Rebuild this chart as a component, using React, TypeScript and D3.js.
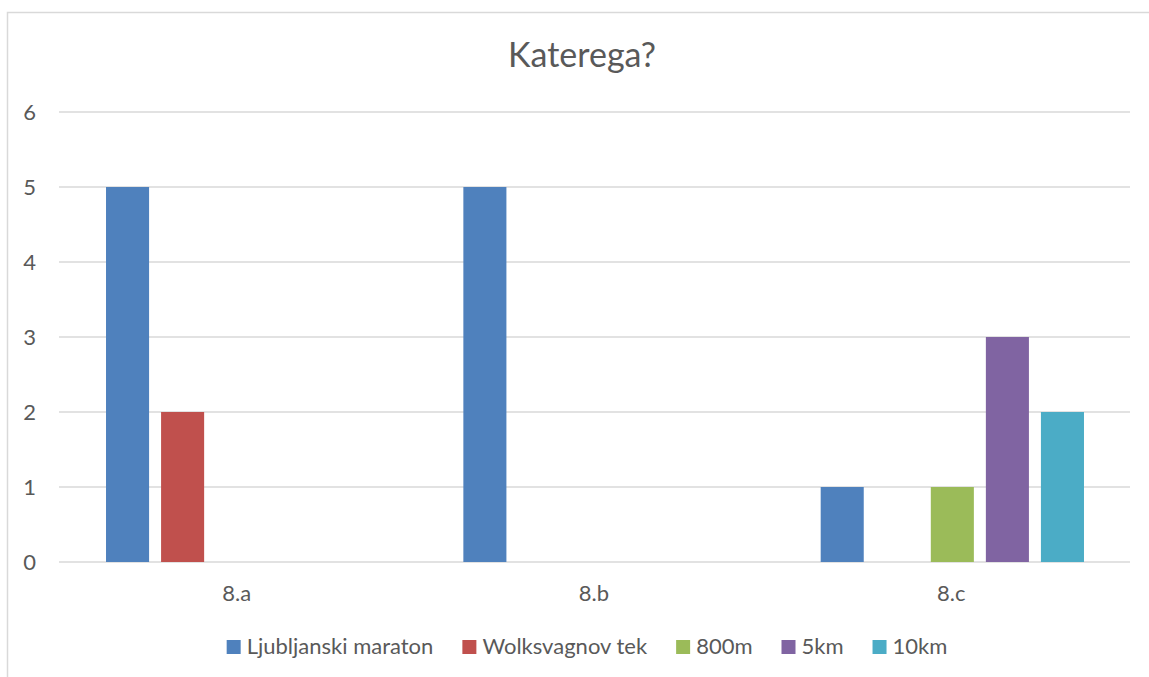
import React, { useEffect, useRef } from 'react';
import * as d3 from 'd3';

const categories = ['8.a', '8.b', '8.c'];
const seriesNames = ['Ljubljanski maraton', 'Wolksvagnov tek', '800m', '5km', '10km'];
const seriesColors = ['#4f81bd', '#c0504d', '#9bbb59', '#8064a2', '#4bacc6'];
// values per series, one per category (null = empty cell)
const ljubljanski = [5, 5, 1];
const wolksvagnov = [2, null, null];
const m800 = [null, null, 1];
const km5 = [null, null, 3];
const km10 = [null, null, 2];
const yTicks = [0, 1, 2, 3, 4, 5, 6];

const seriesValues = [ljubljanski, wolksvagnov, m800, km5, km10];

const W = 1149;
const H = 677;
const FONT = 'Lato, "Open Sans", sans-serif';
const TEXT = '#595959';

const App: React.FC = () => {
  const svgRef = useRef<SVGSVGElement>(null);

  useEffect(() => {
    const svg = d3.select(svgRef.current);
    if (!svgRef.current) return;
    svg.selectAll('*').remove();

    const left = 59;
    const right = 1131;
    const top = 112;
    const bottom = 562;

    const x = d3.scaleBand<string>().domain(categories).range([left, right]).padding(0);
    const xs = d3
      .scaleBand<string>()
      .domain(seriesNames)
      .range([0, x.bandwidth()])
      .paddingInner(0.218)
      .paddingOuter(0.854);
    const y = d3.scaleLinear().domain([0, 6]).range([bottom, top]);

    // chart border (partially cropped)
    svg.append('path')
      .attr('d', `M7.5,${H} V12.5 H${W}`)
      .attr('fill', 'none')
      .attr('stroke', '#d9d9d9')
      .attr('stroke-width', 1.5);

    // title
    svg.append('text')
      .attr('x', 582)
      .attr('y', 67)
      .attr('text-anchor', 'middle')
      .attr('font-family', FONT)
      .attr('font-size', 34)
      .attr('fill', TEXT)
      .text('Katerega?');

    // gridlines
    svg.append('g')
      .selectAll('line')
      .data(yTicks)
      .join('line')
      .attr('x1', left)
      .attr('x2', right - 1)
      .attr('y1', (d) => y(d))
      .attr('y2', (d) => y(d))
      .attr('stroke', '#d9d9d9')
      .attr('stroke-width', 1.3);

    // y labels
    svg.append('g')
      .selectAll('text')
      .data(yTicks)
      .join('text')
      .attr('x', 36)
      .attr('y', (d) => y(d) + 7.5)
      .attr('text-anchor', 'end')
      .attr('font-family', FONT)
      .attr('font-size', 22)
      .attr('fill', TEXT)
      .text((d) => d);

    // bars
    seriesNames.forEach((name, si) => {
      svg.append('g')
        .selectAll('rect')
        .data(categories.map((c, ci) => ({ c, v: seriesValues[si][ci] })).filter((d) => d.v != null))
        .join('rect')
        .attr('x', (d) => (x(d.c) ?? 0) + (xs(name) ?? 0))
        .attr('width', xs.bandwidth())
        .attr('y', (d) => y(d.v as number))
        .attr('height', (d) => y(0) - y(d.v as number))
        .attr('fill', seriesColors[si]);
    });

    // x labels
    svg.append('g')
      .selectAll('text')
      .data(categories)
      .join('text')
      .attr('x', (d) => (x(d) ?? 0) + x.bandwidth() / 2 - 1)
      .attr('y', 601)
      .attr('text-anchor', 'middle')
      .attr('font-family', FONT)
      .attr('font-size', 22)
      .attr('fill', TEXT)
      .text((d) => d);

    // legend
    const legend = svg.append('g');
    let cx = 0;
    seriesNames.forEach((name, i) => {
      const g = legend.append('g').attr('transform', `translate(${cx},0)`);
      g.append('rect')
        .attr('x', 0)
        .attr('y', 640)
        .attr('width', 14)
        .attr('height', 14)
        .attr('fill', seriesColors[i]);
      const t = g.append('text')
        .attr('x', 20)
        .attr('y', 654)
        .attr('font-family', FONT)
        .attr('font-size', 22)
        .attr('fill', TEXT)
        .text(name);
      const tw = (t.node() as SVGTextElement).getComputedTextLength();
      cx += 20 + tw + 29;
    });
    const total = cx - 29;
    legend.attr('transform', `translate(${587 - total / 2},0)`);
  }, []);

  return (
    <svg
      ref={svgRef}
      width={W}
      height={H}
      style={{ position: 'absolute', left: 0, top: 0, background: '#fff' }}
    />
  );
};

export default App;
